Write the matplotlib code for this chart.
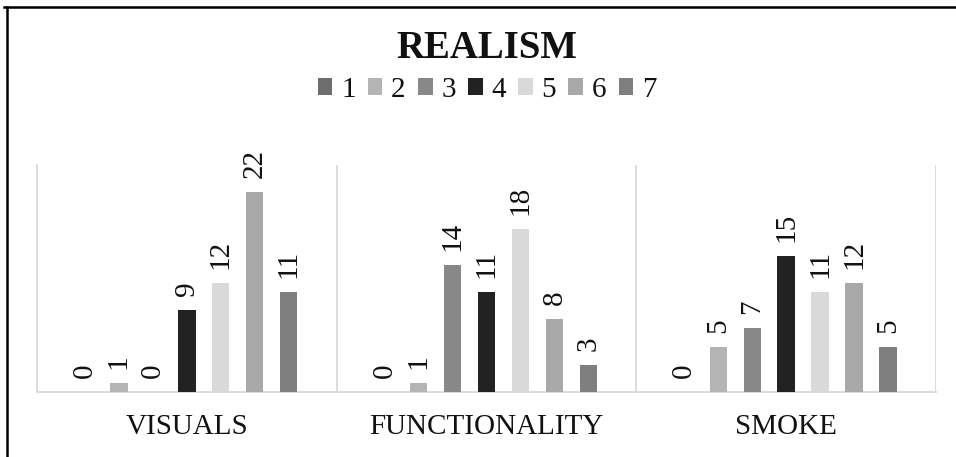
import matplotlib
matplotlib.use("Agg")
import matplotlib.pyplot as plt
import numpy as np
from matplotlib.patches import Patch
from matplotlib.lines import Line2D

categories = ["VISUALS", "FUNCTIONALITY", "SMOKE"]
series_names = ["1", "2", "3", "4", "5", "6", "7"]
values = {
    "1": [0, 0, 0],
    "2": [1, 1, 5],
    "3": [0, 14, 7],
    "4": [9, 11, 15],
    "5": [12, 18, 11],
    "6": [22, 8, 12],
    "7": [11, 3, 5],
}
colors = ["#6e6e6e", "#b4b4b4", "#888888", "#222222", "#d9d9d9", "#a9a9a9", "#7f7f7f"]
title = "REALISM"

plt.rcParams['font.family'] = ['Liberation Serif', 'DejaVu Serif']

W, H = 956, 457
fig = plt.figure(figsize=(W / 100, H / 100), dpi=100)
ax = fig.add_axes([37 / W, 1 - 392 / H, (936 - 37) / W, (392 - 165) / H])

x = np.arange(len(categories))
step = 0.1133
width = 0.058
for i, name in enumerate(series_names):
    xs = x + (i - 3) * step
    vals = values[name]
    ax.bar(xs, vals, width=width, color=colors[i], zorder=3)
    for xi, v in zip(xs, vals):
        ax.annotate(str(v), (xi, v), xytext=(0, 14), textcoords='offset pixels',
                    rotation=90, ha='center', va='bottom', fontsize=21, color='#111111')

ax.set_xlim(-0.5, 2.5)
ax.set_ylim(0, 25)
for s in ['top', 'right']:
    ax.spines[s].set_visible(False)
ax.spines['left'].set_color('#d9d9d9')
ax.spines['bottom'].set_color('#d9d9d9')
ax.spines['left'].set_linewidth(1.3)
ax.spines['bottom'].set_linewidth(1.3)
for b in [0.5, 1.5, 2.5]:
    ax.axvline(b, color='#d9d9d9', lw=1.3, zorder=1)
ax.set_yticks([])
ax.set_xticks(x)
ax.set_xticklabels(categories, fontsize=21, color='#111111')
ax.tick_params(axis='x', length=0, pad=16)
ax.set_facecolor('none')

fig.text(486.5 / W, 1 - 48 / H, title, ha='center', va='center', fontsize=28,
         fontweight='bold', color='#111111')

handles = [Patch(facecolor=c, edgecolor='none') for c in colors]
fig.legend(handles, series_names, loc='center', bbox_to_anchor=(487 / W, 1 - 90 / H),
           ncol=7, frameon=False, fontsize=21, handlelength=0.5, handleheight=0.5,
           handletextpad=0.3, columnspacing=0.42, borderaxespad=0, labelcolor='#111111')

fig.add_artist(Line2D([4 / W, 1], [1 - 7 / H, 1 - 7 / H], color='black', lw=1.8,
                      transform=fig.transFigure))
fig.add_artist(Line2D([7 / W, 7 / W], [1 - 7 / H, 0], color='black', lw=1.8,
                      transform=fig.transFigure))

fig.savefig("out.png", dpi=100)
